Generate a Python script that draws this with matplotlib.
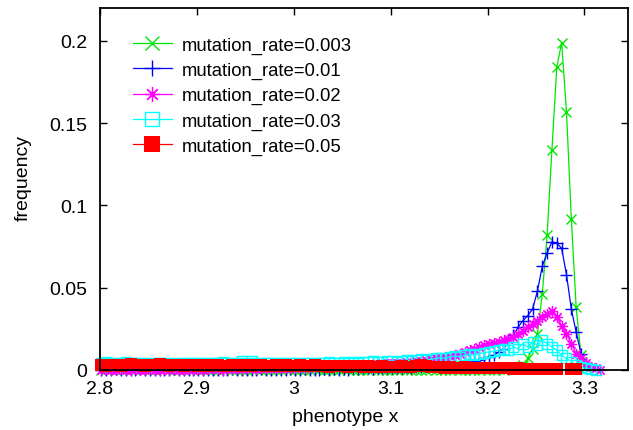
import numpy as np
from matplotlib import pyplot as plt
from matplotlib.ticker import FuncFormatter

nan = np.nan

# histogram bins of phenotype x (bin width 0.005)
phenotype = np.round(np.arange(2.8015, 3.3170, 0.005), 4)

freq_0003 = [
	0, 0, 0.0005, 0, 0, 0.0005, 0, 0, 0, 0.0005,
	0, 0, 0, 0.0005, 0, 0, 0, 0.0005, 0, 0,
	0, 0.0005, 0, 0, 0, 0, 0.0005, 0, 0, 0,
	0, 0, 0.0005, 0, 0, 0, 0, 0, 0.0005, 0,
	0, 0, 0, 0, 0.0005, 0, 0, 0, 0, 0,
	0.0005, 0, 0, 0, 0, 0, 0.0005, 0, 0, 0,
	0, 0, 0.0005, 0, 0, 0, 0, 0, 0.0005, 0,
	0, 0, 0, 0.0005, 0, 0, 0, 0, 0, 0.0005,
	0, 0, 0.0005, 0, 0.0005, 0.001, 0.001, 0.003, 0.007, 0.013,
	0.022, 0.046, 0.082, 0.134, 0.184, 0.199, 0.157, 0.092, 0.038, 0.009,
	0.002, nan, nan, nan]

freq_001 = [
	0, 0, 0, 0.0005, 0, 0, 0, 0, 0.0005, 0,
	0, 0, 0, 0, 0, 0.0005, 0, 0, 0, 0,
	0, 0, 0, 0, 0, 0, 0, 0.0005, 0, 0,
	0, 0, 0, 0.0005, 0, 0, 0, 0, 0, 0.0005,
	0, 0, 0.0005, 0, 0, 0, 0.0005, 0, 0.0005, 0,
	0.0005, 0, 0.001, 0.0005, 0.001, 0.001, 0.0005, 0.001, 0.001, 0.0015,
	0.001, 0.0015, 0.0015, 0.002, 0.0015, 0.002, 0.002, 0.0025, 0.0025, 0.003,
	0.003, 0.0035, 0.0035, 0.004, 0.004, 0.0045, 0.005, 0.0055, 0.006, 0.007,
	0.008, 0.009, 0.011, 0.013, 0.017, 0.021, 0.026, 0.030, 0.033, 0.037,
	0.048, 0.063, 0.071, 0.078, 0.077, 0.074, 0.058, 0.037, 0.023, 0.010,
	0.004, 0.001, nan, nan]

freq_002 = [
	0, 0.0005, 0, 0, 0.0005, 0, 0, 0.0005, 0, 0,
	0.0005, 0, 0, 0.0005, 0, 0.0005, 0, 0, 0.0005, 0,
	0.0005, 0, 0.0005, 0.001, 0.0005, 0, 0.001, 0.0005, 0.001, 0.0005,
	0.001, 0.001, 0.0005, 0.001, 0.0015, 0.001, 0.001, 0.0015, 0.001, 0.0015,
	0.0015, 0.002, 0.0015, 0.002, 0.002, 0.0025, 0.002, 0.0025, 0.0025, 0.0025,
	0.0025, 0.003, 0.003, 0.003, 0.0035, 0.003, 0.0035, 0.0035, 0.004, 0.004,
	0.004, 0.0045, 0.0045, 0.005, 0.005, 0.0055, 0.0055, 0.006, 0.0065, 0.007,
	0.0075, 0.008, 0.0085, 0.009, 0.010, 0.011, 0.012, 0.013, 0.014, 0.015,
	0.016, 0.0165, 0.017, 0.018, 0.019, 0.020, 0.022, 0.024, 0.026, 0.028,
	0.030, 0.032, 0.034, 0.036, 0.032, 0.027, 0.022, 0.016, 0.010, 0.007,
	0.004, 0.002, 0.001, 0.0]

freq_003 = [
	0.0045, 0.005, 0.0045, 0.004, 0.0045, 0.005, 0.0045, 0.004, 0.0045, 0.004,
	0.0045, 0.004, 0.004, 0.0045, 0.004, 0.004, 0.0035, 0.004, 0.004, 0.0045,
	0.004, 0.0045, 0.004, 0.004, 0.0045, 0.005, 0.004, 0.0045, 0.004, 0.0055,
	0.0045, 0.0055, 0.0045, 0.0045, 0.004, 0.004, 0.0045, 0.004, 0.0045, 0.0045,
	0.004, 0.0045, 0.0045, 0.004, 0.004, 0.0045, 0.0045, 0.005, 0.0045, 0.0045,
	0.005, 0.0045, 0.005, 0.0045, 0.005, 0.005, 0.0055, 0.005, 0.005, 0.0055,
	0.0055, 0.005, 0.0055, 0.006, 0.0055, 0.006, 0.0065, 0.006, 0.0065, 0.007,
	0.0075, 0.007, 0.008, 0.0085, 0.008, 0.009, 0.0095, 0.009, 0.010, 0.0105,
	0.011, 0.0115, 0.012, 0.0125, 0.012, 0.014, 0.013, 0.016, 0.014, 0.017,
	0.015, 0.018, 0.016, 0.014, 0.012, 0.009, 0.007, 0.005, 0.003, 0.002,
	0.001, 0.0005, 0.0, nan]

freq_005 = [
	0.003, 0.0025, 0.003, 0.003, 0.0025, 0.003, 0.0035, 0.003, 0.003, 0.0025,
	0.003, 0.003, 0.0035, 0.003, 0.0025, 0.003, 0.003, 0.0025, 0.003, 0.003,
	0.0025, 0.003, 0.0025, 0.003, 0.003, 0.0025, 0.0025, 0.003, 0.003, 0.0025,
	0.003, 0.0025, 0.003, 0.003, 0.0025, 0.0025, 0.003, 0.0025, 0.003, 0.0025,
	0.0025, 0.003, 0.0025, 0.0025, 0.003, 0.0025, 0.0025, 0.002, 0.0025, 0.0025,
	0.0025, 0.002, 0.0025, 0.0025, 0.002, 0.0025, 0.002, 0.002, 0.0025, 0.002,
	0.002, 0.002, 0.0025, 0.002, 0.002, 0.0025, 0.003, 0.0025, 0.002, 0.002,
	0.002, 0.0015, 0.002, 0.0015, 0.0015, 0.002, 0.0015, 0.0015, 0.001, 0.0015,
	0.001, 0.0015, 0.001, 0.001, 0.001, 0.0005, 0.001, 0.0005, 0.0005, 0.0005,
	0.0005, 0.0005, 0.0005, 0.0005, 0.0005, nan, nan, 0.0005, 0.0005, nan,
	nan, nan, nan, nan]

labels = ["mutation_rate=0.003", "mutation_rate=0.01", "mutation_rate=0.02",
		  "mutation_rate=0.03", "mutation_rate=0.05"]

plt.rcParams['font.family'] = ['Liberation Sans', 'DejaVu Sans']

fig = plt.figure(figsize=(6.33, 4.31), dpi=100)
ax = fig.add_axes([100 / 633, 60 / 431, 528 / 633, 362 / 431])

styles = [
	dict(color="#00e600", marker="x", ms=7, mew=1.0),
	dict(color="#0000ff", marker="+", ms=9, mew=1.0),
	dict(color="#ff00ff", marker=(8, 2, 0), ms=8, mew=0.9),
	dict(color="#00ffff", marker="s", ms=7.3, mew=1.0, mfc="none"),
	dict(color="#ff0000", marker="s", ms=8.5, mew=0),
]
for y, lab, st in zip([freq_0003, freq_001, freq_002, freq_003, freq_005], labels, styles):
	ax.plot(phenotype, y, lw=0.9, label=lab, clip_on=False, **st)

ax.set_xlim(2.8, 3.345)
ax.set_ylim(0, 0.22)
ax.set_xticks([2.8, 2.9, 3.0, 3.1, 3.2, 3.3])
ax.set_yticks([0, 0.05, 0.1, 0.15, 0.2])
fmt = FuncFormatter(lambda v, p: "%g" % round(v, 3))
ax.xaxis.set_major_formatter(fmt)
ax.yaxis.set_major_formatter(fmt)
ax.tick_params(direction="in", length=5, width=1, top=True, right=True, labelsize=14)
ax.tick_params(axis="x", pad=7)
ax.tick_params(axis="y", pad=9)
for s in ax.spines.values():
	s.set_linewidth(1.3)
	s.set_zorder(5)

ax.set_xlabel("phenotype x", fontsize=14)
ax.set_ylabel("frequency", fontsize=14)
ax.xaxis.set_label_coords(0.464, -0.105)
ax.yaxis.set_label_coords(-0.129, 0.533)

ax.legend(loc="upper left", bbox_to_anchor=(0.0625, 0.921), frameon=False, fontsize=13.3,
		  handlelength=2.1, handletextpad=0.55, labelspacing=0.44, borderpad=0,
		  borderaxespad=0, markerscale=1.35)

fig.savefig("out.png", dpi=100)
